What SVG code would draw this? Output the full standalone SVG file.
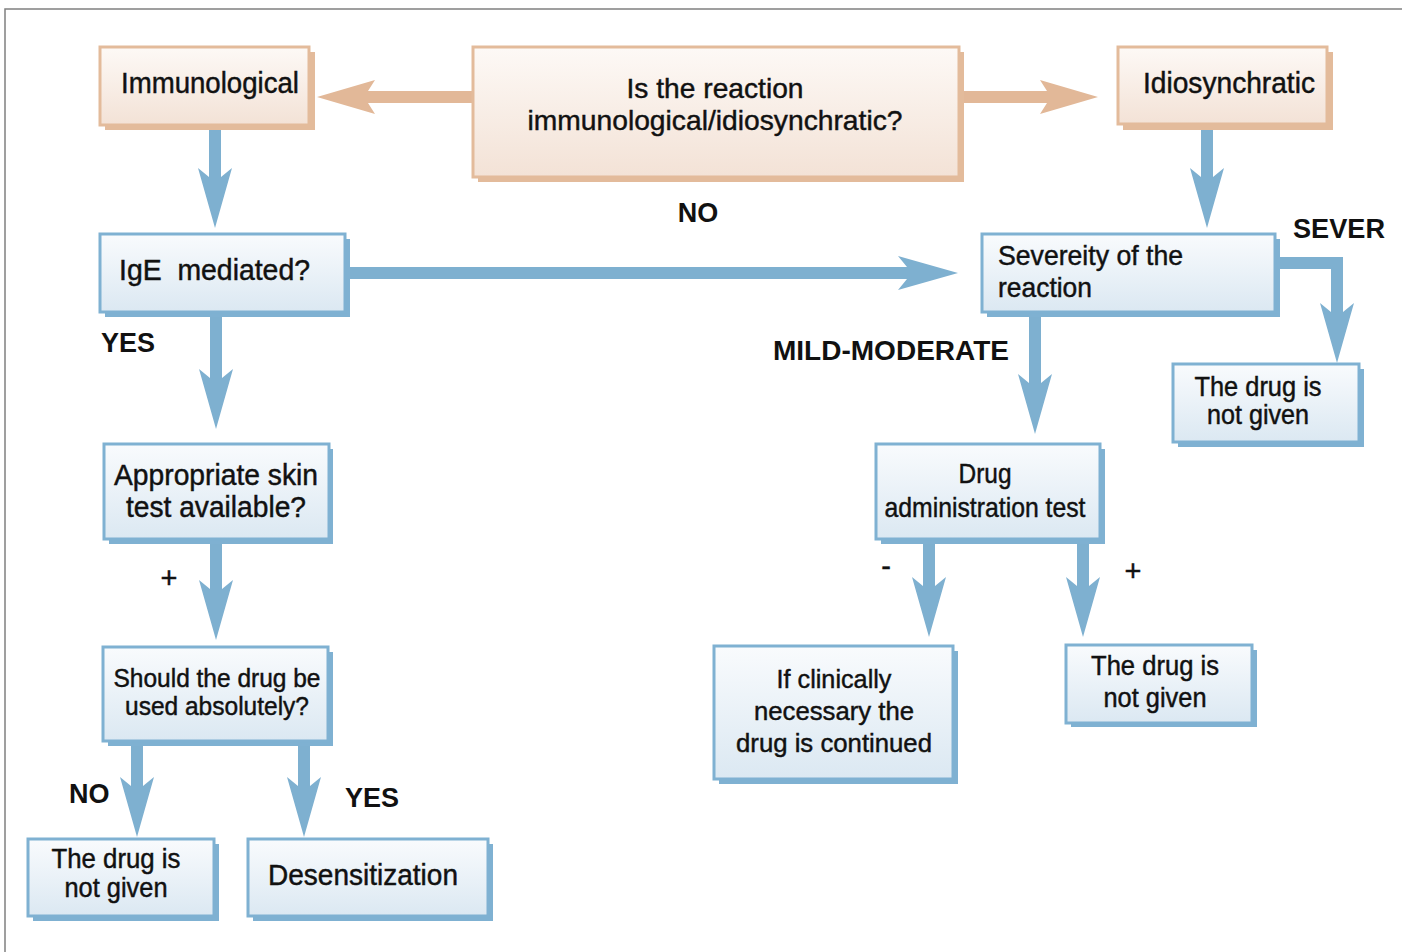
<svg xmlns="http://www.w3.org/2000/svg" width="1402" height="952" viewBox="0 0 1402 952">
<defs>
<linearGradient id="gBlue" x1="0" y1="0" x2="0" y2="1">
<stop offset="0" stop-color="#f9fbfd"/><stop offset="1" stop-color="#dbe8f2"/>
</linearGradient>
<linearGradient id="gPeach" x1="0" y1="0" x2="0" y2="1">
<stop offset="0" stop-color="#fdf9f6"/><stop offset="1" stop-color="#f3e2d6"/>
</linearGradient>
<marker id="hBlue" markerUnits="userSpaceOnUse" viewBox="0 -18 62 36" markerWidth="62" markerHeight="36" refX="12" refY="0" orient="auto" overflow="visible">
<path d="M60,0 L0,-17 L9,-6 L9,6 L0,17 Z" fill="#7eb0d0"/>
</marker>
<marker id="hPeach" markerUnits="userSpaceOnUse" viewBox="0 -18 62 36" markerWidth="62" markerHeight="36" refX="12" refY="0" orient="auto" overflow="visible">
<path d="M58,0 L0,-17 L7,-6 L7,6 L0,17 Z" fill="#e2b898"/>
</marker>
</defs>
<style>
.sb{fill:#7fb1d2}
.bb{fill:url(#gBlue);stroke:#7fb1d2;stroke-width:3}
.sp{fill:#e3bb9b}
.pb{fill:url(#gPeach);stroke:#e3bb9b;stroke-width:3}
text{font-family:"Liberation Sans",Arial,Helvetica,sans-serif;fill:#111;white-space:pre}
.t{stroke:#111;stroke-width:0.45}
.c{text-anchor:middle}
.lb{font-weight:bold;font-size:27px}
.ab{fill:none;stroke:#7eb0d0;stroke-width:12;stroke-linejoin:miter;marker-end:url(#hBlue)}
.ap{fill:none;stroke:#e2b898;stroke-width:12;marker-end:url(#hPeach)}
</style>
<rect width="1402" height="952" fill="#fff"/>
<path d="M5,952 V9 H1402" fill="none" stroke="#808080" stroke-width="1.5"/>

<g id="connectors">
<path class="ap" d="M473,97 H363"/>
<path class="ap" d="M964,97 H1052"/>
<path class="ab" d="M215,130 V180"/>
<path class="ab" d="M216,316 V381"/>
<path class="ab" d="M216,544 V592"/>
<path class="ab" d="M137,746 V789"/>
<path class="ab" d="M304,746 V789"/>
<path class="ab" d="M350,273 H910"/>
<path class="ab" d="M1207,129 V180"/>
<path class="ab" d="M1035,316 V386"/>
<path class="ab" d="M1279,263 H1337 V315"/>
<path class="ab" d="M929,544 V589"/>
<path class="ab" d="M1083,544 V589"/>
</g>

<g id="immunological">
<rect class="sp" x="105" y="52" width="210" height="78"/>
<rect class="pb" x="100" y="47" width="209" height="78"/>
<text class="t c" x="210" y="93" font-size="29" textLength="178" lengthAdjust="spacingAndGlyphs">Immunological</text>
</g>
<g id="question">
<rect class="sp" x="478" y="52" width="486" height="130"/>
<rect class="pb" x="473" y="47" width="486" height="130"/>
<text class="t c" x="715" y="98" font-size="28.5" textLength="177" lengthAdjust="spacingAndGlyphs">Is the reaction</text>
<text class="t c" x="715" y="130" font-size="28.5" textLength="375" lengthAdjust="spacingAndGlyphs">immunological/idiosynchratic?</text>
</g>
<g id="idiosynchratic">
<rect class="sp" x="1123" y="52" width="210" height="78"/>
<rect class="pb" x="1118" y="47" width="209" height="77"/>
<text class="t c" x="1229" y="93" font-size="29" textLength="172" lengthAdjust="spacingAndGlyphs">Idiosynchratic</text>
</g>
<g id="ige">
<rect class="sb" x="105" y="239" width="245" height="78"/>
<rect class="bb" x="100" y="234" width="245" height="78"/>
<text class="t" x="119" y="280" font-size="29" textLength="191" lengthAdjust="spacingAndGlyphs">IgE  mediated?</text>
</g>
<g id="severity">
<rect class="sb" x="987" y="239" width="293" height="78"/>
<rect class="bb" x="982" y="234" width="293" height="78"/>
<text class="t" x="998" y="265" font-size="28" textLength="185" lengthAdjust="spacingAndGlyphs">Severeity of the</text>
<text class="t" x="998" y="297" font-size="28" textLength="94" lengthAdjust="spacingAndGlyphs">reaction</text>
</g>
<g id="notgiven-severe">
<rect class="sb" x="1178" y="369" width="186" height="78"/>
<rect class="bb" x="1173" y="364" width="186" height="78"/>
<text class="t c" x="1258" y="396" font-size="27" textLength="127" lengthAdjust="spacingAndGlyphs">The drug is</text>
<text class="t c" x="1258" y="424" font-size="27" textLength="102" lengthAdjust="spacingAndGlyphs">not given</text>
</g>
<g id="skintest">
<rect class="sb" x="109" y="449" width="224" height="95"/>
<rect class="bb" x="104" y="444" width="225" height="95"/>
<text class="t c" x="216" y="485" font-size="29" textLength="204" lengthAdjust="spacingAndGlyphs">Appropriate skin</text>
<text class="t c" x="216" y="517" font-size="29" textLength="180" lengthAdjust="spacingAndGlyphs">test available?</text>
</g>
<g id="drugtest">
<rect class="sb" x="881" y="449" width="224" height="95"/>
<rect class="bb" x="876" y="444" width="224" height="95"/>
<text class="t c" x="985" y="483" font-size="28" textLength="53" lengthAdjust="spacingAndGlyphs">Drug</text>
<text class="t c" x="985" y="517" font-size="28" textLength="201" lengthAdjust="spacingAndGlyphs">administration test</text>
</g>
<g id="should">
<rect class="sb" x="108" y="652" width="225" height="94"/>
<rect class="bb" x="103" y="647" width="225" height="94"/>
<text class="t c" x="217" y="687" font-size="25.5" textLength="207" lengthAdjust="spacingAndGlyphs">Should the drug be</text>
<text class="t c" x="217" y="715" font-size="25.5" textLength="184" lengthAdjust="spacingAndGlyphs">used absolutely?</text>
</g>
<g id="continued">
<rect class="sb" x="719" y="651" width="239" height="133"/>
<rect class="bb" x="714" y="646" width="239" height="133"/>
<text class="t c" x="834" y="688" font-size="26" textLength="115" lengthAdjust="spacingAndGlyphs">If clinically</text>
<text class="t c" x="834" y="720" font-size="26" textLength="160" lengthAdjust="spacingAndGlyphs">necessary the</text>
<text class="t c" x="834" y="752" font-size="26" textLength="196" lengthAdjust="spacingAndGlyphs">drug is continued</text>
</g>
<g id="notgiven-positive">
<rect class="sb" x="1071" y="650" width="186" height="77"/>
<rect class="bb" x="1066" y="645" width="186" height="78"/>
<text class="t c" x="1155" y="675" font-size="27" textLength="128" lengthAdjust="spacingAndGlyphs">The drug is</text>
<text class="t c" x="1155" y="707" font-size="27" textLength="103" lengthAdjust="spacingAndGlyphs">not given</text>
</g>
<g id="notgiven-no">
<rect class="sb" x="33" y="844" width="186" height="77"/>
<rect class="bb" x="28" y="839" width="186" height="77"/>
<text class="t c" x="116" y="868" font-size="27" textLength="129" lengthAdjust="spacingAndGlyphs">The drug is</text>
<text class="t c" x="116" y="897" font-size="27" textLength="103" lengthAdjust="spacingAndGlyphs">not given</text>
</g>
<g id="desensitization">
<rect class="sb" x="253" y="844" width="240" height="77"/>
<rect class="bb" x="248" y="839" width="240" height="77"/>
<text class="t c" x="363" y="885" font-size="29" textLength="190" lengthAdjust="spacingAndGlyphs">Desensitization</text>
</g>

<g id="labels">
<text class="lb c" x="698" y="222">NO</text>
<text class="lb" x="1293" y="238" textLength="92" lengthAdjust="spacingAndGlyphs">SEVER</text>
<text class="lb" x="101" y="352">YES</text>
<text class="lb" x="773" y="360" textLength="236" lengthAdjust="spacingAndGlyphs">MILD-MODERATE</text>
<text class="t c" x="169" y="588" font-size="29">+</text>
<text class="t c" x="886" y="576" font-size="29">-</text>
<text class="t c" x="1133" y="581" font-size="29">+</text>
<text class="lb" x="69" y="803">NO</text>
<text class="lb" x="345" y="807">YES</text>
</g>
</svg>
